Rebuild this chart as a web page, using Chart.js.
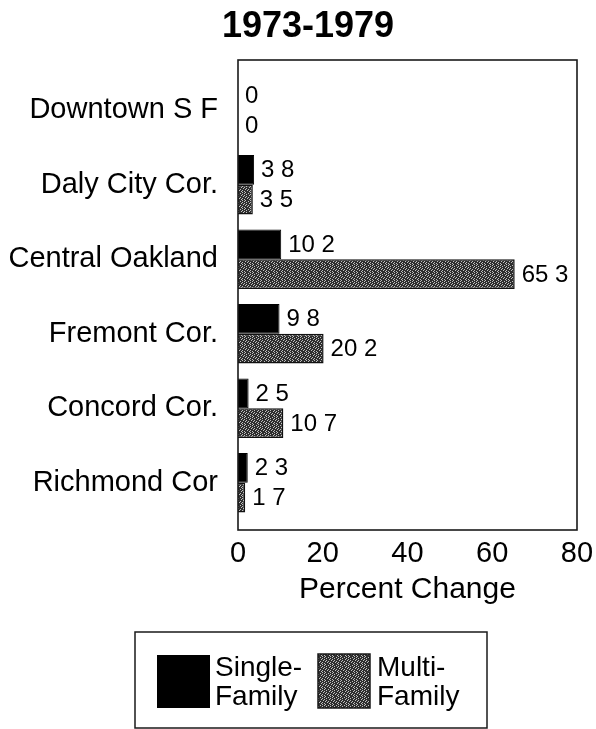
<!DOCTYPE html>
<html>
<head>
<meta charset="utf-8">
<script src="https://cdn.jsdelivr.net/npm/chart.js@4"></script>
<style>
  html, body { margin: 0; padding: 0; background: #fff; }
  canvas { display: block; }
</style>
</head>
<body>
<canvas id="c" width="596" height="729" style="width:596px;height:729px"></canvas>
<script>
// ---- data ----
const chartTitle = "1973-1979";
const categories = ["Downtown S F", "Daly City Cor.", "Central Oakland", "Fremont Cor.", "Concord Cor.", "Richmond Cor"];
const seriesNames = ["Single-Family", "Multi-Family"];
const singleFamily = [0, 3.8, 10.2, 9.8, 2.5, 2.3];
const multiFamily = [0, 3.5, 65.3, 20.2, 10.7, 1.7];
const xTickValues = [0, 20, 40, 60, 80];
const xAxisTitle = "Percent Change";
const legendLines = [["Single-", "Family"], ["Multi-", "Family"]];

// ---- textured fill for multi-family ----
function makePattern() {
  const rows = ["DDLDDLDD", "LDDDLDDD", "DDLDDDLD", "DLDDLDDD", "DDDLDDLD", "LDDDDLDD", "DDLDDDDL", "DLDDLDDD"];
  const p = document.createElement('canvas');
  p.width = rows[0].length; p.height = rows.length;
  const pc = p.getContext('2d');
  rows.forEach((r, y) => {
    for (let x = 0; x < r.length; x++) {
      pc.fillStyle = r[x] === 'L' ? '#c0c0c0' : '#2e2e2e';
      pc.fillRect(x, y, 1, 1);
    }
  });
  return document.getElementById('c').getContext('2d').createPattern(p, 'repeat');
}
const pattern = makePattern();

const FONT = "Arial, 'Liberation Sans', Helvetica, sans-serif";
const fmt = v => String(v).replace('.', ' ');

const decorations = {
  id: 'decorations',
  afterDatasetsDraw(chart) {
    const ctx = chart.ctx;
    const ca = chart.chartArea;
    ctx.save();
    // frame
    ctx.strokeStyle = '#1a1a1a';
    ctx.lineWidth = 1.6;
    ctx.strokeRect(ca.left, 60, ca.right - ca.left, 530 - 60);
    // value labels
    ctx.fillStyle = '#000';
    ctx.font = '24px ' + FONT;
    ctx.textAlign = 'left';
    ctx.textBaseline = 'middle';
    chart.data.datasets.forEach((ds, i) => {
      const meta = chart.getDatasetMeta(i);
      meta.data.forEach((el, j) => {
        ctx.fillText(fmt(ds.data[j]), el.x + 7, el.y + 1);
      });
    });
    // title
    ctx.font = 'bold 36px ' + FONT;
    ctx.textAlign = 'center';
    ctx.textBaseline = 'alphabetic';
    ctx.fillText(chartTitle, 308, 37);
    // legend
    ctx.lineWidth = 1.5;
    ctx.strokeStyle = '#1a1a1a';
    ctx.strokeRect(135, 632, 352, 96);
    ctx.fillStyle = '#000';
    ctx.fillRect(157, 655, 53, 53);
    ctx.fillStyle = pattern;
    ctx.fillRect(318, 654, 52, 54);
    ctx.lineWidth = 1.5;
    ctx.strokeRect(318, 654, 52, 54);
    ctx.fillStyle = '#000';
    ctx.font = '28px ' + FONT;
    ctx.textAlign = 'left';
    ctx.fillText(legendLines[0][0], 215, 676);
    ctx.fillText(legendLines[0][1], 215, 705);
    ctx.fillText(legendLines[1][0], 377, 676);
    ctx.fillText(legendLines[1][1], 377, 705);
    ctx.restore();
  }
};

new Chart(document.getElementById('c'), {
  type: 'bar',
  data: {
    labels: categories,
    datasets: [
      { label: seriesNames[0], data: singleFamily, backgroundColor: '#000', borderColor: '#000', borderWidth: 1, categoryPercentage: 0.8, barPercentage: 1 },
      { label: seriesNames[1], data: multiFamily, backgroundColor: pattern, borderColor: '#111', borderWidth: 1.5, categoryPercentage: 0.8, barPercentage: 1 }
    ]
  },
  options: {
    indexAxis: 'y',
    responsive: false,
    animation: false,
    devicePixelRatio: 1,
    layout: { padding: { top: 73, right: 19, bottom: 109, left: 0 } },
    plugins: { legend: { display: false }, title: { display: false }, tooltip: { enabled: false } },
    scales: {
      x: {
        type: 'linear', min: 0, max: 80,
        afterBuildTicks(s) { s.ticks = xTickValues.map(v => ({ value: v })); },
        ticks: { color: '#000', font: { size: 29, family: FONT }, padding: 17, maxRotation: 0 },
        grid: { display: false, drawTicks: false },
        border: { display: false },
        title: { display: true, text: xAxisTitle, color: '#000', font: { size: 30, family: FONT }, padding: { top: 0, bottom: 12 } },
        afterFit(s) { s.height = 100; s.paddingLeft = 0; s.paddingRight = 0; }
      },
      y: {
        ticks: { color: '#000', font: { size: 29, family: FONT }, padding: 20 },
        grid: { display: false, drawTicks: false },
        border: { display: false },
        afterFit(s) { s.width = 238; s.paddingTop = 0; s.paddingBottom = 0; }
      }
    }
  },
  plugins: [decorations]
});
</script>
</body>
</html>
